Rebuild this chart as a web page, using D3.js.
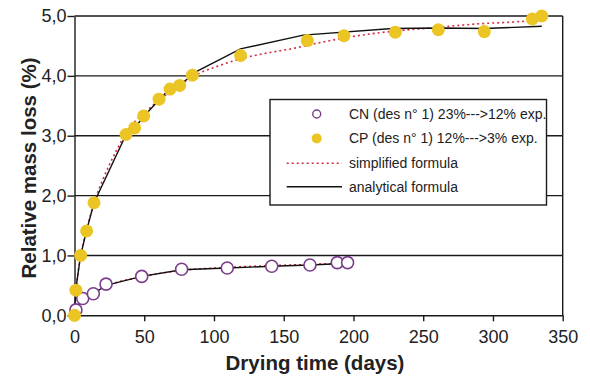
<!DOCTYPE html>
<html>
<head>
<meta charset="utf-8">
<script src="https://cdn.jsdelivr.net/npm/d3@7"></script>
<style>
  html, body { margin: 0; padding: 0; background: #fff; }
  svg { display: block; }
  text { font-family: "Liberation Sans", Arial, Helvetica, sans-serif; fill: #222; }
</style>
</head>
<body>
<svg id="chart" width="590" height="377"></svg>
<script>
// ---- data ----
const cpDays = [0, 1, 4.4, 8.7, 14, 36.9, 43.1, 49.6, 60.6, 68.5, 75.4, 84.5, 119.1, 166.9, 193.2, 230, 260.8, 293.8, 328.2, 335];
const cpMass = [0, 0.42, 1.0, 1.41, 1.88, 3.02, 3.13, 3.33, 3.61, 3.78, 3.84, 4.01, 4.34, 4.59, 4.67, 4.73, 4.77, 4.74, 4.95, 5.0];

const cnDays = [1, 5.9, 13.5, 22.6, 48.2, 76.8, 109.5, 141.4, 168.8, 188.4, 195.8];
const cnMass = [0.09, 0.28, 0.36, 0.52, 0.65, 0.77, 0.79, 0.82, 0.84, 0.88, 0.88];

const cpAnaDays = [0, 1, 4.4, 8.7, 14, 37, 43, 50, 61, 68, 75, 88, 119, 164, 228, 261, 294, 335];
const cpAnaMass = [0, 0.45, 1.0, 1.42, 1.88, 3.02, 3.13, 3.33, 3.61, 3.78, 3.84, 4.08, 4.45, 4.68, 4.79, 4.8, 4.79, 4.83];

const cpSimDays = [0, 2, 5, 10, 15, 20, 30, 40, 50, 60, 70, 80, 90, 100, 120, 140, 155, 175, 195, 215, 235, 260, 290, 315, 333];
const cpSimMass = [0, 0.6, 1.05, 1.55, 1.95, 2.25, 2.75, 3.15, 3.38, 3.58, 3.76, 3.92, 4.05, 4.14, 4.29, 4.39, 4.45, 4.55, 4.64, 4.71, 4.76, 4.81, 4.87, 4.9, 4.93];

const cnAnaDays = [0, 1, 5.9, 13.5, 22.6, 48.2, 76.8, 109.5, 141.4, 168.8, 188.4, 195.8];
const cnAnaMass = [0, 0.09, 0.28, 0.36, 0.5, 0.65, 0.76, 0.79, 0.82, 0.84, 0.86, 0.87];

const cnSimDays = [0, 5, 13, 23, 48, 77, 110, 141, 169, 196];
const cnSimMass = [0, 0.25, 0.37, 0.49, 0.64, 0.75, 0.8, 0.83, 0.85, 0.87];

const xTicks = [0, 50, 100, 150, 200, 250, 300, 350];
const yTicks = [0, 1, 2, 3, 4, 5];
const yGrid = [1, 2, 3, 4, 5];

const legendLabels = ["CN (des n° 1) 23%--->12% exp.", "CP (des n° 1) 12%--->3% exp.", "simplified formula", "analytical formula"];
const xTitle = "Drying time (days)";
const yTitle = "Relative mass loss (%)";

// ---- styling ----
const C = { axis: "#1a1a1a", yellow: "#ebc524", purple: "#7a3d8c", red: "#d8283c" };

const svg = d3.select("#chart");
const x = d3.scaleLinear().domain([0, 350]).range([74.5, 562.7]);
const y = d3.scaleLinear().domain([0, 5]).range([315.3, 16]);

const zip = (a, b) => a.map((d, i) => [d, b[i]]);

// gridlines
svg.append("g").selectAll("line").data(yGrid).join("line")
  .attr("x1", x(0)).attr("x2", x(350))
  .attr("y1", d => y(d)).attr("y2", d => y(d))
  .attr("stroke", C.axis).attr("stroke-width", 1.4);

// right border
svg.append("line").attr("x1", x(350)).attr("x2", x(350)).attr("y1", y(5)).attr("y2", y(0))
  .attr("stroke", C.axis).attr("stroke-width", 1.4);

// axes
const fmt = d => d.toFixed(1).replace(".", ",");
const yAxis = svg.append("g").attr("transform", `translate(${x(0)},0)`)
  .call(d3.axisLeft(y).tickValues(yTicks).tickFormat(fmt).tickSize(7).tickPadding(1).tickSizeOuter(0));
const xAxis = svg.append("g").attr("transform", `translate(0,${y(0)})`)
  .call(d3.axisBottom(x).tickValues(xTicks).tickFormat(d3.format("d")).tickSize(6).tickPadding(9).tickSizeOuter(0));
[yAxis, xAxis].forEach(g => {
  g.selectAll("path, line").attr("stroke", C.axis).attr("stroke-width", 1.4);
  g.selectAll("text").attr("font-size", 18).attr("fill", "#222")
    .attr("font-family", '"Liberation Sans", Arial, Helvetica, sans-serif');
});

// curves
const lineLin = d3.line().x(d => x(d[0])).y(d => y(d[1]));
const lineSmooth = d3.line().x(d => x(d[0])).y(d => y(d[1])).curve(d3.curveMonotoneX);

function drawAna(data) {
  svg.append("path").attr("d", lineLin(data)).attr("fill", "none")
    .attr("stroke", "#111").attr("stroke-width", 1.4);
}
function drawSim(data) {
  svg.append("path").attr("d", lineSmooth(data)).attr("fill", "none")
    .attr("stroke", C.red).attr("stroke-width", 1.6).attr("stroke-dasharray", "2,3");
}
drawSim(zip(cnSimDays, cnSimMass));
drawAna(zip(cnAnaDays, cnAnaMass));
drawSim(zip(cpSimDays, cpSimMass));
drawAna(zip(cpAnaDays, cpAnaMass));

// markers
svg.append("g").selectAll("circle").data(zip(cnDays, cnMass)).join("circle")
  .attr("cx", d => x(d[0])).attr("cy", d => y(d[1])).attr("r", 6)
  .attr("fill", "#fff").attr("stroke", C.purple).attr("stroke-width", 1.6);
svg.append("g").selectAll("circle").data(zip(cpDays, cpMass)).join("circle")
  .attr("cx", d => x(d[0])).attr("cy", d => y(d[1])).attr("r", 6.5)
  .attr("fill", C.yellow);

// legend
const lg = svg.append("g");
lg.append("rect").attr("x", 270).attr("y", 99.5).attr("width", 276.5).attr("height", 105.5)
  .attr("fill", "#fff").attr("stroke", C.axis).attr("stroke-width", 1.4);
const rowY = [114, 138.4, 163.3, 186.8];
lg.append("circle").attr("cx", 316.7).attr("cy", rowY[0]).attr("r", 4)
  .attr("fill", "#fff").attr("stroke", C.purple).attr("stroke-width", 1.4);
lg.append("circle").attr("cx", 316.7).attr("cy", rowY[1]).attr("r", 5).attr("fill", C.yellow);
lg.append("line").attr("x1", 286.7).attr("x2", 342).attr("y1", rowY[2]).attr("y2", rowY[2])
  .attr("stroke", C.red).attr("stroke-width", 1.6).attr("stroke-dasharray", "2,3");
lg.append("line").attr("x1", 286.7).attr("x2", 342).attr("y1", rowY[3]).attr("y2", rowY[3])
  .attr("stroke", "#111").attr("stroke-width", 1.4);
lg.selectAll("text.lab").data(legendLabels).join("text").attr("class", "lab")
  .attr("x", 349).attr("y", (d, i) => rowY[i] + 5).attr("font-size", 14).text(d => d);

// titles
svg.append("text").attr("x", 315).attr("y", 370).attr("text-anchor", "middle")
  .attr("font-size", 20.5).attr("font-weight", "bold").text(xTitle);
svg.append("text").attr("transform", "translate(36,168) rotate(-90)").attr("text-anchor", "middle")
  .attr("font-size", 20.5).attr("font-weight", "bold").text(yTitle);
</script>
</body>
</html>
